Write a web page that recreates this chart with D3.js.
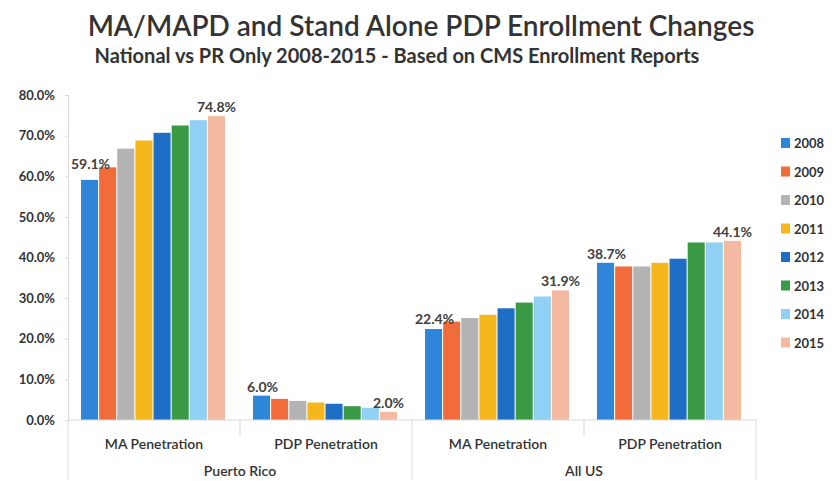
<!DOCTYPE html>
<html>
<head>
<meta charset="utf-8">
<script src="https://cdn.jsdelivr.net/npm/d3@7"></script>
<style>
  body { margin: 0; background: #fff; }
  svg { display: block; font-family: Lato, "Open Sans", sans-serif; }
</style>
</head>
<body>
<svg id="chart" width="837" height="481"></svg>
<script>
const years = ['2008', '2009', '2010', '2011', '2012', '2013', '2014', '2015'];
const categories = ['PR|MA Penetration', 'PR|PDP Penetration', 'US|MA Penetration', 'US|PDP Penetration'];
const groups = [{ key: 'PR', name: 'Puerto Rico' }, { key: 'US', name: 'All US' }];
const colors = ['#2f86d8', '#f26b3a', '#b3b3b3', '#f6b71d', '#1f6ec6', '#3b9a46', '#8fd0f4', '#f3b9a1'];

// one array per category, values per year (%)
const prMA = [59.1, 62.2, 66.8, 68.8, 70.7, 72.5, 73.8, 74.8];
const prPDP = [6.0, 5.2, 4.7, 4.3, 4.0, 3.4, 3.0, 2.0];
const usMA = [22.4, 24.2, 25.1, 25.9, 27.5, 28.9, 30.4, 31.9];
const usPDP = [38.7, 37.8, 37.8, 38.7, 39.7, 43.7, 43.7, 44.1];
const yTicks = [0, 10, 20, 30, 40, 50, 60, 70, 80];

const seriesByCat = [prMA, prPDP, usMA, usPDP];
// only first and last bar of each group get a label
const labelled = [0, 7];

const margin = { top: 95, right: 81, bottom: 60, left: 68 };
const W = 837, H = 481;
const width = W - margin.left - margin.right;
const height = H - margin.top - margin.bottom - 1;

const svg = d3.select('#chart');

svg.append('text')
  .attr('x', 421).attr('y', 36)
  .attr('text-anchor', 'middle')
  .attr('font-size', 28).attr('font-weight', 600).attr('fill', '#333')
  .text('MA/MAPD and Stand Alone PDP Enrollment Changes');

svg.append('text')
  .attr('x', 397).attr('y', 63)
  .attr('text-anchor', 'middle')
  .attr('font-size', 20).attr('font-weight', 700).attr('fill', '#333')
  .text('National vs PR Only 2008-2015 - Based on CMS Enrollment Reports');

const g = svg.append('g').attr('transform', `translate(${margin.left},${margin.top})`);

const x0 = d3.scaleBand().domain(categories).range([0, width]).paddingInner(0).paddingOuter(0);
const x1 = d3.scaleBand().domain(years).range([13, x0.bandwidth() - 15]).paddingInner(0.06);
const y = d3.scaleLinear().domain([0, 80]).range([height, 0]);

// y axis
const axisY = d3.axisLeft(y)
  .tickValues(yTicks)
  .tickFormat(d => d3.format('.1f')(d) + '%')
  .tickSize(3)
  .tickPadding(10);

const gy = g.append('g').attr('class', 'axis-y').call(axisY);
gy.select('.domain').attr('stroke', '#d9d9d9');
gy.selectAll('.tick line').attr('stroke', '#d9d9d9');
gy.selectAll('.tick text')
  .attr('font-size', 13).attr('font-weight', 700).attr('fill', '#333')
  .attr('font-family', 'Lato, sans-serif');

// bars
const cat = g.selectAll('.cat')
  .data(categories)
  .join('g')
  .attr('class', 'cat')
  .attr('transform', d => `translate(${x0(d)},0)`);

cat.selectAll('rect')
  .data((d, i) => seriesByCat[i].map((v, j) => ({ year: years[j], value: v, j })))
  .join('rect')
  .attr('x', d => x1(d.year))
  .attr('y', d => y(d.value))
  .attr('width', x1.bandwidth())
  .attr('height', d => height - y(d.value))
  .attr('fill', d => colors[d.j]);

// label sits above its bar, lifted over the next bar if that one is much taller
cat.selectAll('.lbl')
  .data((d, i) => seriesByCat[i].map((v, j, arr) => ({ year: years[j], value: v, j, next: arr[j + 1] }))
    .filter(d => labelled.includes(d.j)))
  .join('text')
  .attr('class', 'lbl')
  .attr('x', d => x1(d.year) + x1.bandwidth() / 2 + (d.j === 0 ? 1 : 0))
  .attr('y', d => {
    let ly = y(d.value) - 4;
    if (d.next !== undefined && y(d.next) + 2 < ly) ly = y(d.next) + 2;
    return ly;
  })
  .attr('text-anchor', 'middle')
  .attr('font-size', 14).attr('font-weight', 700).attr('fill', '#404040')
  .text(d => d3.format('.1f')(d.value) + '%');

// x axis, two tiers
const xa = g.append('g').attr('transform', `translate(0,${height})`);
xa.append('line')
  .attr('x1', 0).attr('x2', width).attr('y1', 0).attr('y2', 0)
  .attr('stroke', '#d9d9d9');

const edges = d3.range(categories.length + 1).map(i => i * x0.bandwidth());
xa.selectAll('.sep')
  .data(edges)
  .join('line')
  .attr('class', 'sep')
  .attr('x1', d => d).attr('x2', d => d)
  .attr('y1', 0)
  .attr('y2', (d, i) => (i % 2 === 0 ? 60 : 16))
  .attr('stroke', '#d9d9d9');

xa.selectAll('.cat-lbl')
  .data(categories)
  .join('text')
  .attr('class', 'cat-lbl')
  .attr('x', d => x0(d) + x0.bandwidth() / 2)
  .attr('y', 29)
  .attr('text-anchor', 'middle')
  .attr('font-size', 14).attr('font-weight', 600).attr('fill', '#333')
  .text(d => d.split('|')[1]);

xa.selectAll('.grp-lbl')
  .data(groups)
  .join('text')
  .attr('class', 'grp-lbl')
  .attr('x', (d, i) => x0.bandwidth() * (2 * i + 1))
  .attr('y', 56)
  .attr('text-anchor', 'middle')
  .attr('font-size', 14).attr('font-weight', 600).attr('fill', '#333')
  .text(d => d.name);

// legend
const legend = svg.append('g').attr('transform', 'translate(781,148)');
const item = legend.selectAll('g')
  .data(years)
  .join('g')
  .attr('transform', (d, i) => `translate(0,${i * 28.5})`);
item.append('rect')
  .attr('x', 0).attr('y', -10).attr('width', 9).attr('height', 10)
  .attr('fill', (d, i) => colors[i]);
item.append('text')
  .attr('x', 13).attr('y', 0)
  .attr('font-size', 13).attr('font-weight', 700).attr('fill', '#333')
  .text(d => d);
</script>
</body>
</html>
